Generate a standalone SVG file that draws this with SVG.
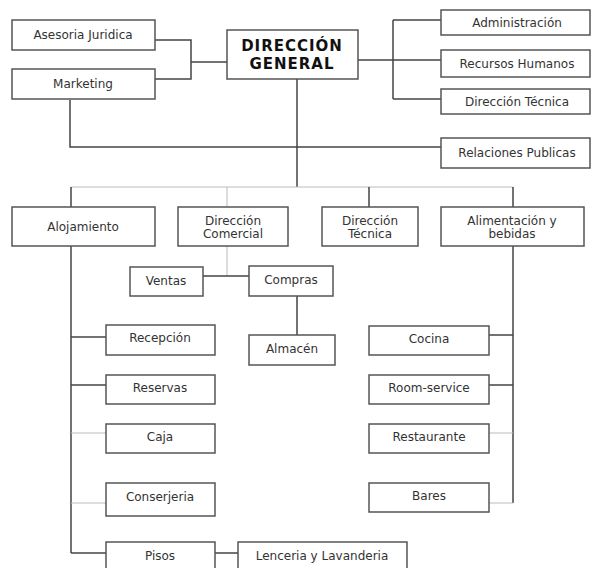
<svg xmlns="http://www.w3.org/2000/svg" width="591" height="568" viewBox="0 0 591 568">
<style>
.b{fill:#fff;stroke:#555;stroke-width:1.5}
.t{font-family:"DejaVu Sans",Verdana,sans-serif;font-size:12px;fill:#333;text-anchor:middle}
.tb{font-family:"DejaVu Sans",Verdana,sans-serif;font-size:15px;font-weight:bold;fill:#111;text-anchor:middle;letter-spacing:1px}
.d{fill:none;stroke:#444;stroke-width:1.5}
.l{fill:none;stroke:#bbb;stroke-width:1}
</style>
<rect width="591" height="568" fill="#fff"/>
<g id="connectors">
<path class="d" d="M155,40 H191 V79 H155 M191,62 H227"/>
<path class="d" d="M358,60 H441 M393,20 V99 M393,20 H441 M393,99 H441"/>
<path class="d" d="M70,100 V147 H441"/>
<path class="d" d="M297,79 V187"/>
<path class="l" d="M71,187 H513"/>
<path class="d" d="M71,187 V207 M369,187 V207 M513,187 V207"/>
<path class="l" d="M227,187 V207 M227,246 V276"/>
<path class="d" d="M203,276 H249 M297,296 V335"/>
<path class="d" d="M71,246 V553 M71,337 H106 M71,385 H106 M71,553 H106 M215,553 H238"/>
<path class="l" d="M71,433 H106 M71,503 H106"/>
<path class="d" d="M513,246 V503 M489,335 H513 M489,385 H513"/>
<path class="l" d="M489,433 H513 M489,503 H513"/>
</g>
<g id="asesoria"><rect class="b" x="12" y="20" width="143" height="30"/><text class="t" x="83" y="39">Asesoria Juridica</text></g>
<g id="marketing"><rect class="b" x="12" y="69" width="143" height="30"/><text class="t" x="83" y="88">Marketing</text></g>
<g id="direccion-general"><rect class="b" x="227" y="30" width="131" height="49"/><text class="tb" x="292" y="51">DIRECCIÓN</text><text class="tb" x="292" y="69">GENERAL</text></g>
<g id="administracion"><rect class="b" x="441" y="10" width="149" height="25"/><text class="t" x="517" y="27">Administración</text></g>
<g id="recursos-humanos"><rect class="b" x="441" y="50" width="149" height="27"/><text class="t" x="517" y="68">Recursos Humanos</text></g>
<g id="direccion-tecnica-top"><rect class="b" x="441" y="89" width="149" height="25"/><text class="t" x="517" y="106">Dirección Técnica</text></g>
<g id="relaciones-publicas"><rect class="b" x="441" y="138" width="149" height="30"/><text class="t" x="517" y="157">Relaciones Publicas</text></g>
<g id="alojamiento"><rect class="b" x="12" y="207" width="143" height="39"/><text class="t" x="83" y="231">Alojamiento</text></g>
<g id="direccion-comercial"><rect class="b" x="178" y="207" width="110" height="39"/><text class="t" x="233" y="225">Dirección</text><text class="t" x="233" y="238">Comercial</text></g>
<g id="direccion-tecnica"><rect class="b" x="322" y="207" width="96" height="39"/><text class="t" x="370" y="225">Dirección</text><text class="t" x="370" y="238">Técnica</text></g>
<g id="alimentacion"><rect class="b" x="441" y="207" width="143" height="39"/><text class="t" x="512" y="225">Alimentación y</text><text class="t" x="512" y="238">bebidas</text></g>
<g id="ventas"><rect class="b" x="130" y="267" width="73" height="29"/><text class="t" x="166" y="285">Ventas</text></g>
<g id="compras"><rect class="b" x="249" y="266" width="84" height="30"/><text class="t" x="291" y="284">Compras</text></g>
<g id="almacen"><rect class="b" x="249" y="335" width="86" height="30"/><text class="t" x="292" y="353">Almacén</text></g>
<g id="recepcion"><rect class="b" x="106" y="325" width="109" height="30"/><text class="t" x="160" y="342">Recepción</text></g>
<g id="reservas"><rect class="b" x="106" y="375" width="109" height="29"/><text class="t" x="160" y="392">Reservas</text></g>
<g id="caja"><rect class="b" x="106" y="424" width="109" height="29"/><text class="t" x="160" y="441">Caja</text></g>
<g id="conserjeria"><rect class="b" x="106" y="483" width="109" height="33"/><text class="t" x="160" y="501">Conserjeria</text></g>
<g id="pisos"><rect class="b" x="106" y="542" width="109" height="30"/><text class="t" x="160" y="560">Pisos</text></g>
<g id="lenceria"><rect class="b" x="238" y="542" width="169" height="30"/><text class="t" x="322" y="560">Lenceria y Lavanderia</text></g>
<g id="cocina"><rect class="b" x="369" y="326" width="120" height="29"/><text class="t" x="429" y="343">Cocina</text></g>
<g id="room-service"><rect class="b" x="369" y="375" width="120" height="29"/><text class="t" x="429" y="392">Room-service</text></g>
<g id="restaurante"><rect class="b" x="369" y="424" width="120" height="29"/><text class="t" x="429" y="441">Restaurante</text></g>
<g id="bares"><rect class="b" x="369" y="483" width="120" height="29"/><text class="t" x="429" y="500">Bares</text></g>
</svg>
